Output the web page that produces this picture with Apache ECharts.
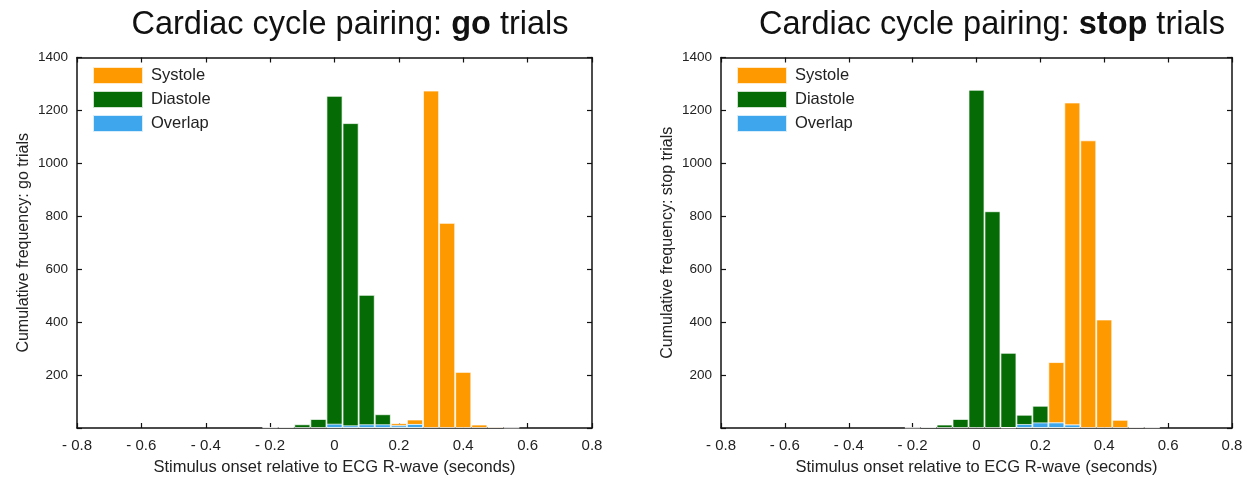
<!DOCTYPE html>
<html>
<head>
<meta charset="utf-8">
<script src="https://cdn.jsdelivr.net/npm/echarts@6/dist/echarts.min.js"></script>
<style>
html,body{margin:0;padding:0;background:#fff;}
#chart{width:1256px;height:481px;}
</style>
</head>
<body>
<div id="chart"></div>
<script>
// Bin centres (seconds relative to ECG R-wave)
const bins = [-0.2, -0.15, -0.1, -0.05, 0, 0.05, 0.1, 0.15, 0.2, 0.25, 0.3, 0.35, 0.4, 0.45, 0.5, 0.55, 0.6];

// Go trials
const goSystole  = [0, 0, 0, 0, 16, 10, 14, 14, 18, 32, 1275, 775, 212, 13, 5, 2, 0];
const goDiastole = [3, 4, 14, 34, 1255, 1152, 503, 52, 10, 15, 0, 0, 0, 0, 0, 0, 0];
const goOverlap  = [0, 0, 0, 0, 16, 10, 14, 14, 10, 15, 0, 0, 0, 0, 0, 0, 0];

// Stop trials
const stopSystole  = [0, 0, 0, 0, 0, 0, 3, 15, 21, 249, 1230, 1087, 410, 31, 4, 3, 0];
const stopDiastole = [2, 4, 13, 34, 1278, 819, 284, 50, 84, 21, 13, 0, 0, 0, 0, 0, 0];
const stopOverlap  = [0, 0, 0, 0, 0, 0, 3, 15, 21, 21, 13, 0, 0, 0, 0, 0, 0];

const xTicks = [-0.8, -0.6, -0.4, -0.2, 0, 0.2, 0.4, 0.6, 0.8];
const yTicks = [200, 400, 600, 800, 1000, 1200, 1400];

const titles = [
  {pre: 'Cardiac cycle pairing: ', bold: 'go', post: ' trials'},
  {pre: 'Cardiac cycle pairing: ', bold: 'stop', post: ' trials'}
];
const yNames = ['Cumulative frequency: go trials', 'Cumulative frequency: stop trials'];
const xName = 'Stimulus onset relative to ECG R-wave (seconds)';
const seriesNames = ['Systole', 'Diastole', 'Overlap'];

const FONT = '"Liberation Sans", Arial, Helvetica, sans-serif';
const colors = {Systole: '#ff9900', Diastole: '#056b05', Overlap: '#3ea6ec'};

const grids = [
  {left: 77, top: 57.5, width: 515, height: 374.5},
  {left: 721, top: 57.5, width: 511, height: 374.5}
];

function toPairs(values) {
  const out = [];
  for (let i = 0; i < bins.length; i++) {
    if (values[i] > 0) out.push([bins[i], values[i]]);
  }
  return out;
}

function xLabel(v) {
  const r = Math.round(v * 10) / 10;
  if (r < 0) return '- ' + Math.abs(r);
  return String(r);
}

const axisLine = {show: true, onZero: false, lineStyle: {color: '#111', width: 1.5}};
const axisTick = {show: true, inside: true, length: 5, lineStyle: {color: '#111', width: 1.2}};

const xAxes = [], yAxes = [], series = [], titleOpts = [], legends = [];

grids.forEach((g, gi) => {
  const t = titles[gi];
  titleOpts.push({
    text: '{n|' + t.pre + '}{b|' + t.bold + '}{n|' + t.post + '}',
    left: g.left + g.width / 2 + 10.5,
    top: 4,
    textAlign: 'center',
    textStyle: {
      fontWeight: 'normal',
      rich: {
        n: {fontFamily: FONT, fontSize: 32.5, color: '#111', fontWeight: 'normal'},
        b: {fontFamily: FONT, fontSize: 32.5, color: '#111', fontWeight: 'bold'}
      }
    }
  });
  legends.push({
    orient: 'vertical',
    left: g.left + 15,
    top: 66,
    padding: 0,
    itemWidth: 50,
    itemHeight: 17,
    itemGap: 5,
    icon: 'rect',
    data: seriesNames,
    selectedMode: false,
    textStyle: {fontFamily: FONT, fontSize: 16.5, color: '#222', padding: [0, 0, 0, 3]}
  });
  // bottom x
  xAxes.push({
    type: 'value', gridIndex: gi, position: 'bottom',
    min: xTicks[0], max: xTicks[xTicks.length - 1], interval: 0.2,
    axisLine: axisLine, axisTick: axisTick, splitLine: {show: false},
    axisLabel: {formatter: xLabel, fontFamily: FONT, fontSize: 15, color: '#222', margin: 10},
    name: xName, nameLocation: 'middle', nameGap: 31,
    nameTextStyle: {fontFamily: FONT, fontSize: 16.5, color: '#222'}
  });
  // top x (frame)
  xAxes.push({
    type: 'value', gridIndex: gi, position: 'top',
    min: xTicks[0], max: xTicks[xTicks.length - 1], interval: 0.2,
    axisLine: axisLine, axisTick: axisTick, splitLine: {show: false},
    axisLabel: {show: false}
  });
  // left y
  yAxes.push({
    type: 'value', gridIndex: gi, position: 'left',
    min: 0, max: yTicks[yTicks.length - 1], interval: 200,
    axisLine: axisLine, axisTick: axisTick, splitLine: {show: false},
    axisLabel: {
      formatter: v => (v === 0 ? '' : String(v)),
      fontFamily: FONT, fontSize: 13.5, color: '#222', margin: 9
    },
    name: yNames[gi], nameLocation: 'middle', nameGap: 45,
    nameTextStyle: {fontFamily: FONT, fontSize: 16, color: '#222'}
  });
  // right y (frame)
  yAxes.push({
    type: 'value', gridIndex: gi, position: 'right',
    min: 0, max: yTicks[yTicks.length - 1], interval: 200,
    axisLine: axisLine, axisTick: axisTick, splitLine: {show: false},
    axisLabel: {show: false}
  });
});

const dataSets = [
  {Systole: goSystole, Diastole: goDiastole, Overlap: goOverlap},
  {Systole: stopSystole, Diastole: stopDiastole, Overlap: stopOverlap}
];

dataSets.forEach((ds, gi) => {
  seriesNames.forEach(name => {
    series.push({
      name: name,
      type: 'bar',
      xAxisIndex: gi * 2,
      yAxisIndex: gi * 2,
      barGap: '-100%',
      barCategoryGap: '0%',
      data: toPairs(ds[name]),
      itemStyle: {color: colors[name], borderColor: 'rgba(255,255,255,0.8)', borderWidth: 0.9},
      emphasis: {disabled: true},
      animation: false
    });
  });
});

const chart = echarts.init(document.getElementById('chart'), null, {renderer: 'canvas'});
chart.setOption({
  backgroundColor: '#fff',
  animation: false,
  title: titleOpts,
  legend: legends,
  grid: grids,
  xAxis: xAxes,
  yAxis: yAxes,
  series: series
});
</script>
</body>
</html>
